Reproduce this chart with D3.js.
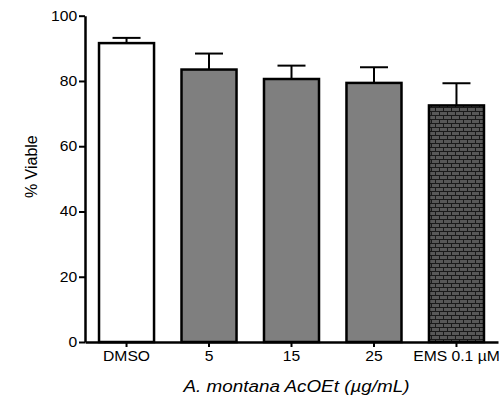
<!DOCTYPE html>
<html>
<head>
<meta charset="utf-8">
<script src="https://cdn.jsdelivr.net/npm/d3@7"></script>
<style>
  html, body { margin: 0; padding: 0; background: #fff; }
  svg { display: block; font-family: "Liberation Sans", Arial, sans-serif; }
</style>
</head>
<body>
<svg id="chart" width="503" height="402"></svg>
<script>
// Cell viability per treatment (mean and upper error)
const categories = ["DMSO", "5", "15", "25", "EMS 0.1 \u00b5M"];
const means = [91.6, 83.5, 80.6, 79.4, 72.5];
const errors = [1.6, 4.9, 4.1, 4.8, 6.8];
const fills = ["white", "gray", "gray", "gray", "brick"];
const yTicks = [0, 20, 40, 60, 80, 100];

const svg = d3.select("#chart");
const x0 = 85, x1 = 498, yTop = 15.7, yBottom = 342;
const FONT = "Liberation Sans, Arial, sans-serif";

const x = d3.scaleBand()
  .domain(categories)
  .range([x0, x1])
  .paddingInner(0.333)
  .paddingOuter(0.17);

const y = d3.scaleLinear().domain([0, 100]).range([yBottom, yTop]);

// Brick hatch for the positive control
const defs = svg.append("defs");
const pat = defs.append("pattern")
  .attr("id", "brick")
  .attr("patternUnits", "userSpaceOnUse")
  .attr("width", 8).attr("height", 8);
pat.append("rect").attr("width", 8).attr("height", 8).attr("fill", "#1a1a1a");
pat.append("rect").attr("x", 0).attr("y", 0).attr("width", 7).attr("height", 3).attr("fill", "#585858");
pat.append("rect").attr("x", -4).attr("y", 4).attr("width", 7).attr("height", 3).attr("fill", "#585858");
pat.append("rect").attr("x", 4).attr("y", 4).attr("width", 7).attr("height", 3).attr("fill", "#585858");

const fillColor = f => f === "white" ? "#fff" : f === "gray" ? "#7f7f7f" : "url(#brick)";

const data = categories.map((c, i) => ({ c, m: means[i], e: errors[i], f: fills[i] }));

// Error bars (upper only)
const eb = svg.append("g").attr("stroke", "#000").attr("stroke-width", 2);
data.forEach(d => {
  const cx = x(d.c) + x.bandwidth() / 2;
  eb.append("line").attr("x1", cx).attr("x2", cx).attr("y1", y(d.m)).attr("y2", y(d.m + d.e));
  eb.append("line").attr("x1", cx - 14).attr("x2", cx + 14).attr("y1", y(d.m + d.e)).attr("y2", y(d.m + d.e));
});

// Bars
svg.append("g").selectAll("rect").data(data).join("rect")
  .attr("x", d => x(d.c))
  .attr("y", d => y(d.m))
  .attr("width", x.bandwidth())
  .attr("height", d => y(0) - y(d.m))
  .attr("fill", d => fillColor(d.f))
  .attr("stroke", "#000")
  .attr("stroke-width", 2.5);

// Y axis
const yAxis = svg.append("g")
  .attr("transform", `translate(${x0},0)`)
  .call(d3.axisLeft(y).tickValues(yTicks).tickSize(6).tickSizeOuter(0));
yAxis.select(".domain").attr("stroke-width", 2.5);
yAxis.selectAll(".tick line").attr("stroke-width", 2);
yAxis.selectAll(".tick text")
  .attr("font-size", 14).attr("font-family", FONT).attr("fill", "#000")
  .attr("x", -7)
  .attr("transform", "scale(1.12,1)");

// X axis
const xAxis = svg.append("g")
  .attr("transform", `translate(0,${yBottom})`)
  .call(d3.axisBottom(x).tickSize(5).tickSizeOuter(0));
xAxis.select(".domain").attr("stroke-width", 2.5);
xAxis.selectAll(".tick line").attr("stroke-width", 2);
xAxis.selectAll(".tick text")
  .attr("font-size", 14).attr("font-family", FONT).attr("fill", "#000")
  .attr("y", 9.5)
  .attr("transform", "scale(1.12,1)");

// Axis titles
svg.append("text")
  .attr("transform", "translate(36.5,166.7) rotate(-90)")
  .attr("text-anchor", "middle")
  .attr("font-size", 16)
  .text("% Viable");

svg.append("text")
  .attr("transform", "translate(296.5,392) scale(1.11,1)")
  .attr("text-anchor", "middle")
  .attr("font-size", 17)
  .attr("font-style", "italic")
  .text("A. montana AcOEt (\u00b5g/mL)");
</script>
</body>
</html>
